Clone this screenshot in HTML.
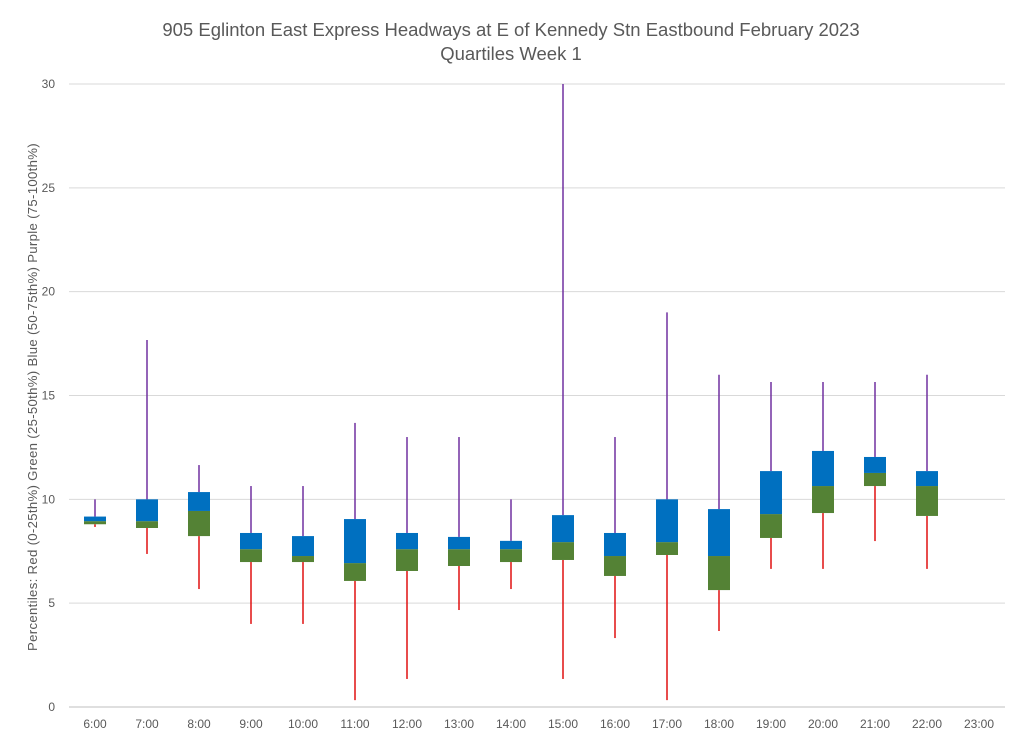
<!DOCTYPE html>
<html><head><meta charset="utf-8"><style>
body{margin:0;background:#fff;}
svg{display:block;font-family:"Liberation Sans",sans-serif;}
</style></head><body>
<svg id="chart" width="1024" height="743">
<text x="511" y="36" text-anchor="middle" font-size="18.5" fill="#595959">905 Eglinton East Express Headways at E of Kennedy Stn Eastbound February 2023</text>
<text x="511" y="60" text-anchor="middle" font-size="18.5" fill="#595959">Quartiles Week 1</text>
<text transform="translate(37,397) rotate(-90)" text-anchor="middle" font-size="13.2" letter-spacing="0.3" fill="#595959">Percentiles:  Red (0-25th%)  Green (25-50th%)  Blue (50-75th%)  Purple (75-100th%)</text>
<g id="grid"></g><g id="marks"></g><g id="labels"></g>
</svg>
<script>
const categories=["6:00","7:00","8:00","9:00","10:00","11:00","12:00","13:00","14:00","15:00","16:00","17:00","18:00","19:00","20:00","21:00","22:00","23:00"];
const minVals=[8.67,7.37,5.68,4.0,4.0,0.33,1.35,4.67,5.68,1.35,3.32,0.33,3.66,6.65,6.65,7.99,6.65,null];
const q1Vals=[8.8,8.62,8.23,6.98,6.98,6.07,6.55,6.79,6.98,7.08,6.31,7.32,5.63,8.14,9.34,10.64,9.2,null];
const medianVals=[8.95,8.95,9.44,7.6,7.27,6.93,7.6,7.6,7.6,7.94,7.27,7.94,7.27,9.29,10.64,11.27,10.64,null];
const q3Vals=[9.17,10.0,10.35,8.38,8.23,9.05,8.38,8.19,8.0,9.24,8.38,10.0,9.53,11.36,12.33,12.04,11.36,null];
const maxVals=[10,17.67,11.65,10.64,10.64,13.68,13.0,13.0,10,30,13.0,19.0,16.0,15.65,15.65,15.65,16.0,null];
const yTicks=[0,5,10,15,20,25,30];
const NS="http://www.w3.org/2000/svg";
const L=69,R=1005,T=84,B=707,YMAX=30;
const y=v=>B-(v/YMAX)*(B-T);
const band=(R-L)/categories.length;
const x=i=>L+band*(i+0.5);
function mk(tag,attrs,parent){const e=document.createElementNS(NS,tag);for(const k in attrs)e.setAttribute(k,attrs[k]);document.getElementById(parent).appendChild(e);return e;}
yTicks.forEach(t=>{
 const g=mk("line",{x1:L,x2:R,y1:y(t),y2:y(t),stroke:t===0?"#bfbfbf":"#d9d9d9","stroke-width":1},"grid");
 
 
 const lb=mk("text",{x:55,y:y(t)+4,"text-anchor":"end","font-size":12,fill:"#595959"},"labels");
 lb.textContent=t;
 
 
});
categories.forEach((c,i)=>{
 const lb=mk("text",{x:x(i),y:728,"text-anchor":"middle","font-size":12,fill:"#595959"},"labels");
 lb.textContent=c;
 
 
 if(maxVals[i]==null)return;
 const cx=x(i),w=22;
 const lo=mk("line",{x1:cx,x2:cx,y1:y(minVals[i]),y2:y(q1Vals[i]),stroke:"#e01010","stroke-width":1.5},"marks");
 
 
 const hi=mk("line",{x1:cx,x2:cx,y1:y(maxVals[i]),y2:y(q3Vals[i]),stroke:"#7030a0","stroke-width":1.5},"marks");
 
 
 const gb=mk("rect",{x:cx-w/2,y:y(medianVals[i]),width:w,height:y(q1Vals[i])-y(medianVals[i]),fill:"#548235"},"marks");
 
 
 const bb=mk("rect",{x:cx-w/2,y:y(q3Vals[i]),width:w,height:y(medianVals[i])-y(q3Vals[i]),fill:"#0070c0"},"marks");
 
 
});
</script>
</body></html>
